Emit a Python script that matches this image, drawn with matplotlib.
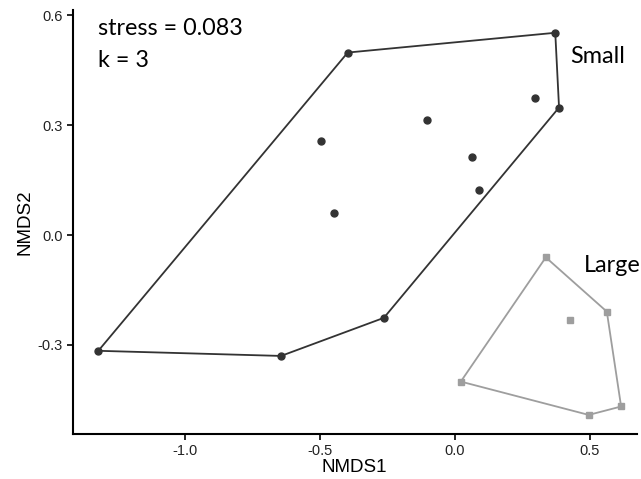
import matplotlib
matplotlib.use("Agg")
import matplotlib.pyplot as plt
import numpy as np

# Data (NMDS scores)
small_x = [-1.321, -0.644, -0.263, -0.397, -0.497, -0.447, 0.372, 0.386, 0.297, -0.103, 0.064, 0.090]
small_y = [-0.316, -0.330, -0.226, 0.498, 0.256, 0.059, 0.552, 0.348, 0.373, 0.314, 0.213, 0.123]
large_x = [0.337, 0.563, 0.616, 0.496, 0.022, 0.425]
large_y = [-0.061, -0.209, -0.468, -0.491, -0.400, -0.233]
group_labels = ["Small", "Large"]
x_ticks = [-1.0, -0.5, 0.0, 0.5]
y_ticks = [-0.3, 0.0, 0.3, 0.6]
stress_text = "stress = 0.083\nk = 3"


def convex_hull(xs, ys):
    pts = sorted(set(zip(xs, ys)))
    if len(pts) <= 2:
        return pts

    def cross(o, a, b):
        return (a[0] - o[0]) * (b[1] - o[1]) - (a[1] - o[1]) * (b[0] - o[0])

    lower = []
    for p in pts:
        while len(lower) >= 2 and cross(lower[-2], lower[-1], p) <= 0:
            lower.pop()
        lower.append(p)
    upper = []
    for p in reversed(pts):
        while len(upper) >= 2 and cross(upper[-2], upper[-1], p) <= 0:
            upper.pop()
        upper.append(p)
    return lower[:-1] + upper[:-1]


fig = plt.figure(figsize=(6.41, 4.79), dpi=100)
ax = fig.add_axes([0.1134, 0.094, 0.88, 0.885])

dark = "#333333"
grey = "#9e9e9e"

hs = convex_hull(small_x, small_y)
hs.append(hs[0])
ax.plot([p[0] for p in hs], [p[1] for p in hs], color=dark, lw=1.3, zorder=2)
ax.plot(small_x, small_y, 'o', color=dark, ms=5, zorder=3)

hl = convex_hull(large_x, large_y)
hl.append(hl[0])
ax.plot([p[0] for p in hl], [p[1] for p in hl], color=grey, lw=1.3, zorder=2)
ax.plot(large_x, large_y, 's', color=grey, ms=5, zorder=3)

ax.set_xlim(-1.416, 0.674)
ax.set_ylim(-0.543, 0.614)
ax.set_xticks(x_ticks)
ax.set_xticklabels([f"{t:.1f}" for t in x_ticks])
ax.set_yticks(y_ticks)
ax.set_yticklabels([f"{t:.1f}" for t in y_ticks])

for s in ["top", "right"]:
    ax.spines[s].set_visible(False)
for s in ["left", "bottom"]:
    ax.spines[s].set_linewidth(1.5)
    ax.spines[s].set_color("black")
ax.tick_params(direction="out", length=4, width=1.2, labelsize=10.5,
               colors="black", pad=3)
for lab in ax.get_xticklabels() + ax.get_yticklabels():
    lab.set_family("Liberation Sans")
    lab.set_color("#222222")

ax.set_xlabel("NMDS1", fontsize=13.5, family="Liberation Sans", labelpad=1)
ax.set_ylabel("NMDS2", fontsize=13.5, family="Liberation Sans", labelpad=3)

lines = stress_text.split("\n")
ax.text(-1.322, 0.565, lines[0], fontsize=16.8, family="Lato",
        va="center", ha="left")
ax.text(-1.322, 0.477, lines[1], fontsize=16.8, family="Lato",
        va="center", ha="left")
ax.text(0.426, 0.486, group_labels[0], fontsize=16.8, family="Lato",
        va="center", ha="left")
ax.text(0.478, -0.082, group_labels[1], fontsize=16.8, family="Lato",
        va="center", ha="left", clip_on=False)

fig.savefig("out.png", dpi=100)
